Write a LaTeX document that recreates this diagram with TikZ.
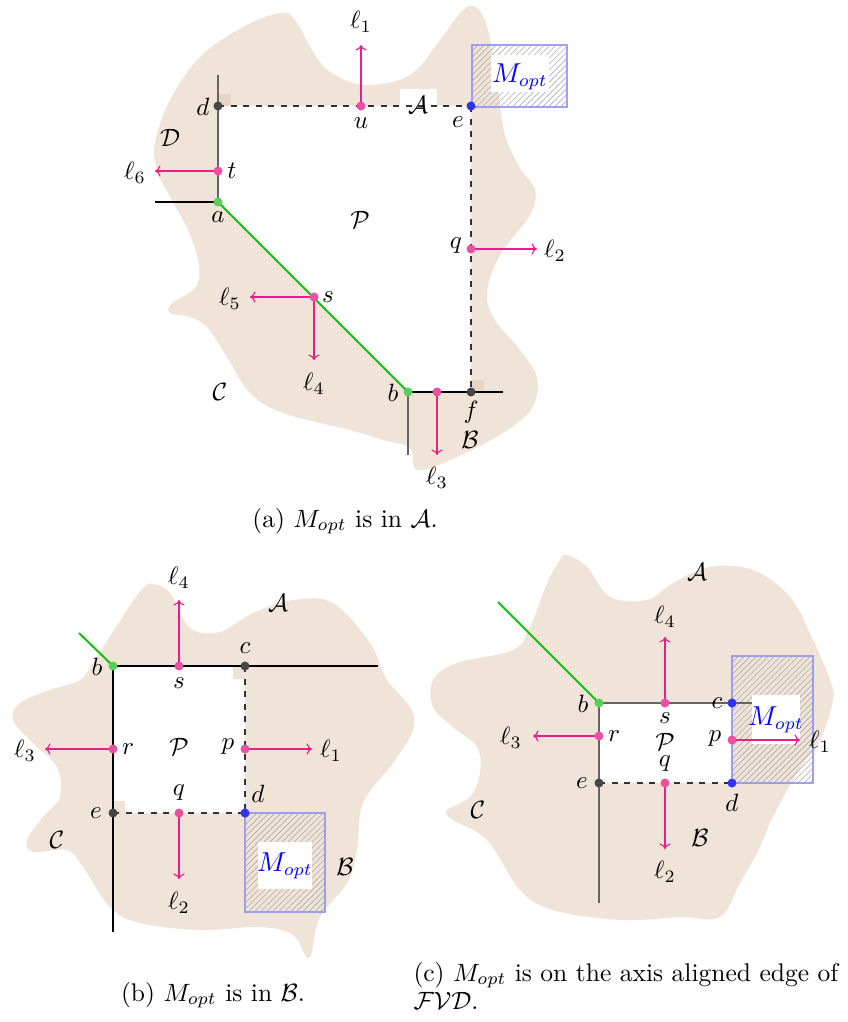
\documentclass[tikz,border=0pt]{standalone}
\usepackage{amsmath}
\usetikzlibrary{patterns.meta,arrows.meta}
\definecolor{blobc}{RGB}{240,227,215}
\definecolor{markc}{RGB}{225,199,175}
\definecolor{pinkd}{RGB}{236,80,160}
\definecolor{pinka}{RGB}{232,30,140}
\definecolor{greenl}{RGB}{20,190,20}
\definecolor{greend}{RGB}{90,205,90}
\definecolor{blued}{RGB}{50,50,240}
\definecolor{boxb}{RGB}{145,145,245}
\definecolor{grayd}{RGB}{70,70,70}
\definecolor{grayl}{RGB}{100,100,100}
\tikzset{
  lbl/.style={font=\fontsize{10}{12}\selectfont, inner sep=0pt},
  captxt/.style={font=\fontsize{10.2}{12}\selectfont, inner sep=0pt},
  blob/.style={fill=blobc, draw=none},
  pfill/.style={fill=white, draw=none},
  rmarker/.style={fill=markc, fill opacity=0.5, draw=none},
  pdot/.style={fill=pinkd},
  gdot/.style={fill=greend},
  bdot/.style={fill=blued},
  kdot/.style={fill=grayd},
  larrow/.style={draw=pinka, line width=0.45pt, -{To[length=2.2pt,width=4.5pt]}},
  solidk/.style={draw=black, line width=0.45pt},
  solidg/.style={draw=grayl, line width=0.6pt},
  dashk/.style={draw=black!80, line width=0.45pt, dash pattern=on 2.5pt off 2.5pt},
  greenseg/.style={draw=greenl, line width=0.8pt},
  hatch/.style={pattern={Lines[angle=45,distance=1.7pt,line width=0.25pt]}, pattern color=gray!65},
  mbox/.style={draw=boxb, line width=0.9pt, draw opacity=0.85},
  wbox/.style={fill=white, draw=none},
  mlbl/.style={font=\fontsize{10.5}{12}\selectfont, inner sep=0pt, text=blue},
}
\begin{document}
\begin{tikzpicture}[x=0.4pt,y=-0.4pt]
\useasboundingbox (0,0) rectangle (848,1022);
% ================= (a) =================
\fill[blob] plot[smooth cycle, tension=0.6] coordinates {(155,143) (170,100) (200,57) (243,27) (280,13) (295,20) (312,50) (330,72) (365,85) (410,75) (440,40) (463,10) (477,8) (488,30) (497,83) (505,135) (520,168) (535,190) (530,215) (500,255) (487,293) (495,320) (520,350) (537,378) (532,408) (503,433) (450,460) (417,470) (410,448) (383,440) (350,430) (283,413) (250,393) (227,357) (207,327) (190,317) (170,313) (172,303) (195,288) (199,265) (188,230) (170,197) (157,170)};
\coordinate (ad) at (218,106);
\coordinate (ae) at (471,106);
\coordinate (au) at (361,106);
\coordinate (aa) at (218,202);
\coordinate (at) at (218,171);
\coordinate (aq) at (471,249);
\coordinate (as) at (314,297);
\coordinate (ab) at (408,392);
\coordinate (ag) at (437,392);
\coordinate (af) at (471,392);
\coordinate (atop) at (218,75);
\coordinate (aleft) at (155,202);
\coordinate (aright) at (503,392);
\coordinate (abot) at (408,455);
\coordinate (al1) at (361,45);
\coordinate (al6) at (155,171);
\coordinate (al2) at (537,249);
\coordinate (al5) at (250,297);
\coordinate (al4) at (314,360);
\coordinate (al3) at (437,455);
\fill[pfill] (ad) -- (ae) -- (af) -- (ab) -- (aa) -- cycle;
\fill[rmarker] (219,94) rectangle (231,106);
\fill[rmarker] (472,380) rectangle (484,392);
\fill[hatch] (472,45) rectangle (567,107);
\fill[wbox] (491,55) rectangle (549,92);
\fill[wbox] (400,89) rectangle (437,107);
\draw[solidg] (atop) -- (aa);
\draw[solidk] (aleft) -- (aa);
\draw[dashk] (ad) -- (ae);
\draw[dashk] (ae) -- (af);
\draw[greenseg] (aa) -- (ab);
\draw[solidk] (ab) -- (aright);
\draw[solidg] (ab) -- (abot);
\draw[mbox] (472,45) rectangle (567,107);
\draw[larrow] (au) -- (al1);
\draw[larrow] (at) -- (al6);
\draw[larrow] (aq) -- (al2);
\draw[larrow] (as) -- (al5);
\draw[larrow] (as) -- (al4);
\draw[larrow] (ag) -- (al3);
\fill[kdot] (ad) circle[radius=4.5];
\fill[bdot] (ae) circle[radius=4.5];
\fill[pdot] (au) circle[radius=4.5];
\fill[gdot] (aa) circle[radius=4.5];
\fill[pdot] (at) circle[radius=4.5];
\fill[pdot] (aq) circle[radius=4.5];
\fill[pdot] (as) circle[radius=4.5];
\fill[gdot] (ab) circle[radius=4.5];
\fill[pdot] (ag) circle[radius=4.5];
\fill[kdot] (af) circle[radius=4.5];
\node[lbl] (tl1) at (361,22) {$\ell_1$};
\node[lbl] (tl6) at (135,173) {$\ell_6$};
\node[lbl] (tl2) at (555,251) {$\ell_2$};
\node[lbl] (tl5) at (230,299) {$\ell_5$};
\node[lbl] (tl4) at (314,384) {$\ell_4$};
\node[lbl] (tl3) at (437,478) {$\ell_3$};
\node[lbl] (td) at (203,107) {$d$};
\node[lbl] (tu) at (361,123) {$u$};
\node[lbl] (tA) at (418,105) {$\mathcal{A}$};
\node[lbl] (te) at (458,122) {$e$};
\node[lbl] (tt) at (232,171) {$t$};
\node[lbl] (ta) at (218,217) {$a$};
\node[lbl] (tP) at (360,220) {$\mathcal{P}$};
\node[lbl] (tq) at (456,246) {$q$};
\node[lbl] (ts) at (328,297) {$s$};
\node[lbl] (tb) at (393,393) {$b$};
\node[lbl] (tf) at (471,412) {$f$};
\node[lbl] (tB) at (470,440) {$\mathcal{B}$};
\node[lbl] (tC) at (220,392) {$\mathcal{C}$};
\node[lbl] (tD) at (170,138) {$\mathcal{D}$};
\node[mlbl] (tM) at (520,77) {$M_{opt}$};
\node[captxt, anchor=base] (capa) at (345,527) {(a) $M_{opt}$ is in $\mathcal{A}$.};
% ================= (b) =================
\fill[blob] plot[smooth cycle, tension=0.6] coordinates {(143,588) (153,584) (170,593) (190,628) (220,632) (253,613) (293,600) (333,603) (370,643) (387,680) (410,707) (413,730) (393,763) (363,803) (357,850) (347,883) (320,917) (309,958) (293,935) (260,927) (200,930) (140,923) (110,907) (83,867) (67,850) (33,852) (27,840) (43,817) (60,797) (57,767) (33,743) (13,720) (20,703) (50,690) (80,680) (93,663) (127,610)};
\coordinate (bb) at (113,666);
\coordinate (bc) at (245,666);
\coordinate (bs) at (179,666);
\coordinate (br) at (113,749);
\coordinate (bp) at (245,749);
\coordinate (be) at (113,813);
\coordinate (bq) at (179,813);
\coordinate (bd) at (245,813);
\coordinate (bgr) at (79,633);
\coordinate (bright) at (378,666);
\coordinate (bbot) at (113,932);
\coordinate (bl4) at (179,600);
\coordinate (bl3) at (45,749);
\coordinate (bl1) at (312,749);
\coordinate (bl2) at (179,879);
\fill[pfill] (bb) rectangle (bd);
\fill[rmarker] (233,667) rectangle (245,679);
\fill[rmarker] (113,801) rectangle (125,813);
\fill[hatch] (245,813) rectangle (325,912);
\fill[wbox] (258,842) rectangle (312,889);
\draw[solidk] (bb) -- (bright);
\draw[solidk] (bb) -- (bbot);
\draw[dashk] (bc) -- (bd);
\draw[dashk] (be) -- (bd);
\draw[greenseg] (bgr) -- (bb);
\draw[mbox] (245,813) rectangle (325,912);
\draw[larrow] (bs) -- (bl4);
\draw[larrow] (br) -- (bl3);
\draw[larrow] (bp) -- (bl1);
\draw[larrow] (bq) -- (bl2);
\fill[gdot] (bb) circle[radius=4.5];
\fill[kdot] (bc) circle[radius=4.5];
\fill[pdot] (bs) circle[radius=4.5];
\fill[pdot] (br) circle[radius=4.5];
\fill[pdot] (bp) circle[radius=4.5];
\fill[kdot] (be) circle[radius=4.5];
\fill[pdot] (bq) circle[radius=4.5];
\fill[bdot] (bd) circle[radius=4.5];
\node[lbl] (ul4) at (179,578) {$\ell_4$};
\node[lbl] (ul3) at (25,751) {$\ell_3$};
\node[lbl] (ul1) at (331,751) {$\ell_1$};
\node[lbl] (ul2) at (179,903) {$\ell_2$};
\node[lbl] (ub) at (97,667) {$b$};
\node[lbl] (us) at (179,683) {$s$};
\node[lbl] (uc) at (245,648) {$c$};
\node[lbl] (ur) at (128,749) {$r$};
\node[lbl] (uP) at (179,747) {$\mathcal{P}$};
\node[lbl] (up) at (228,747) {$p$};
\node[lbl] (uq) at (179,793) {$q$};
\node[lbl] (ue) at (96,813) {$e$};
\node[lbl] (ud) at (258,794) {$d$};
\node[lbl] (uA) at (278,603) {$\mathcal{A}$};
\node[lbl] (uB) at (345,867) {$\mathcal{B}$};
\node[lbl] (uC) at (57,840) {$\mathcal{C}$};
\node[mlbl] (uM) at (285,866) {$M_{opt}$};
\node[captxt, anchor=base] (capb) at (213,1001) {(b) $M_{opt}$ is in $\mathcal{B}$.};
% ================= (c) =================
\fill[blob] plot[smooth cycle, tension=0.6] coordinates {(560,560) (567,555) (587,567) (610,597) (647,600) (673,583) (710,567) (753,570) (790,597) (813,640) (830,680) (833,700) (820,740) (797,773) (773,817) (757,853) (740,883) (720,917) (680,917) (620,920) (553,910) (520,890) (487,840) (453,820) (447,810) (470,797) (480,773) (477,747) (453,727) (433,707) (433,680) (457,663) (513,650) (530,627) (547,583)};
\coordinate (cb) at (599,703);
\coordinate (cc) at (732,703);
\coordinate (cs) at (665,703);
\coordinate (cr) at (599,736);
\coordinate (cp) at (732,740);
\coordinate (ce) at (599,783);
\coordinate (cq) at (665,783);
\coordinate (cd) at (732,783);
\coordinate (cgr) at (498,602);
\coordinate (cright) at (752,703);
\coordinate (cbot) at (599,903);
\coordinate (cl4) at (665,637);
\coordinate (cl3) at (533,736);
\coordinate (cl1) at (800,740);
\coordinate (cl2) at (665,849);
\fill[pfill] (cb) rectangle (cd);
\fill[hatch] (732,656) rectangle (813,783);
\draw[solidg] (cb) -- (cright);
\draw[solidg] (cb) -- (cbot);
\draw[dashk] (ce) -- (cd);
\draw[greenseg] (cgr) -- (cb);
\fill[wbox] (752,695) rectangle (800,744);
\draw[mbox] (732,656) rectangle (813,783);
\draw[larrow] (cs) -- (cl4);
\draw[larrow] (cr) -- (cl3);
\draw[larrow] (cp) -- (cl1);
\draw[larrow] (cq) -- (cl2);
\fill[gdot] (cb) circle[radius=4.5];
\fill[bdot] (cc) circle[radius=4.5];
\fill[pdot] (cs) circle[radius=4.5];
\fill[pdot] (cr) circle[radius=4.5];
\fill[pdot] (cp) circle[radius=4.5];
\fill[kdot] (ce) circle[radius=4.5];
\fill[pdot] (cq) circle[radius=4.5];
\fill[bdot] (cd) circle[radius=4.5];
\node[lbl] (vl4) at (665,617) {$\ell_4$};
\node[lbl] (vl3) at (511,738) {$\ell_3$};
\node[lbl] (vl1) at (820,742) {$\ell_1$};
\node[lbl] (vl2) at (665,872) {$\ell_2$};
\node[lbl] (vb) at (583,704) {$b$};
\node[lbl] (vs) at (665,718) {$s$};
\node[lbl] (vc) at (717,703) {$c$};
\node[lbl] (vr) at (614,736) {$r$};
\node[lbl] (vP) at (665,742) {$\mathcal{P}$};
\node[lbl] (vp) at (715,739) {$p$};
\node[lbl] (vq) at (665,764) {$q$};
\node[lbl] (ve) at (582,783) {$e$};
\node[lbl] (vd) at (732,803) {$d$};
\node[lbl] (vA) at (697,572) {$\mathcal{A}$};
\node[lbl] (vB) at (700,838) {$\mathcal{B}$};
\node[lbl] (vC) at (478,810) {$\mathcal{C}$};
\node[mlbl] (vM) at (776,720) {$M_{opt}$};
\node[captxt, anchor=base west] (capc1) at (413,981) {(c) $M_{opt}$ is on the axis aligned edge of};
\node[captxt, anchor=base west] (capc2) at (413,1009) {$\mathcal{FVD}$.};
\end{tikzpicture}
\end{document}
